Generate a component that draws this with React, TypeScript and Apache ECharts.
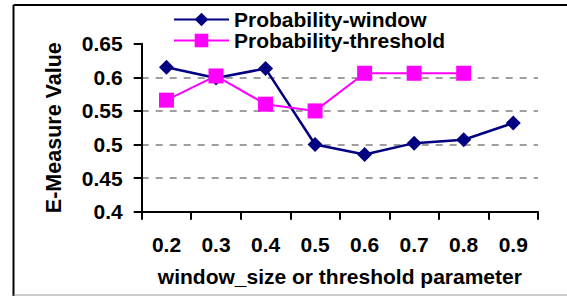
import React, { useEffect, useRef } from "react";
import * as echarts from "echarts";

const categories = ["0.2", "0.3", "0.4", "0.5", "0.6", "0.7", "0.8", "0.9"];
const windowValues = [0.615, 0.599, 0.613, 0.5, 0.485, 0.502, 0.507, 0.532];
const thresholdValues: (number | string)[] = [0.566, 0.602, 0.56, 0.55, 0.606, 0.606, 0.606, "-"];
const seriesNames = ["Probability-window", "Probability-threshold"];
const xAxisTitle = "window_size or threshold parameter";
const yAxisTitle = "E-Measure Value";

const FONT = 'Arial, "Liberation Sans", sans-serif';
const FS = 21;

export default function App() {
  const ref = useRef<HTMLDivElement>(null);
  useEffect(() => {
    if (!ref.current) return;
    const chart = echarts.init(ref.current, undefined, { renderer: "svg" });
    const gridColor = "#808080";
    chart.setOption({
      animation: false,
      backgroundColor: "#ffffff",
      textStyle: { fontFamily: FONT },
      grid: { left: 141.7, right: 29, top: 43.7, bottom: 84.3, containLabel: false },
      legend: {
        orient: "vertical",
        left: 168,
        top: 4,
        padding: 5,
        itemWidth: 55,
        itemHeight: 17,
        itemGap: 0,
        data: seriesNames,
        textStyle: { fontFamily: FONT, fontSize: FS, lineHeight: 21, fontWeight: "bold", color: "#000" },
      },
      xAxis: {
        type: "category",
        data: categories,
        boundaryGap: true,
        name: xAxisTitle,
        nameLocation: "middle",
        nameGap: 54,
        nameTextStyle: { fontFamily: FONT, fontSize: FS, fontWeight: "bold", color: "#000" },
        axisLine: { lineStyle: { color: "#000", width: 2 } },
        axisTick: { show: true, inside: false, length: 8, alignWithLabel: false, lineStyle: { color: "#000", width: 2 } },
        axisLabel: { margin: 22, fontFamily: FONT, fontSize: FS, fontWeight: "bold", color: "#000" },
        splitLine: { show: false },
      },
      yAxis: {
        type: "value",
        min: 0.4,
        max: 0.65,
        interval: 0.05,
        name: yAxisTitle,
        nameLocation: "middle",
        nameRotate: 90,
        nameGap: 77,
        nameTextStyle: { fontFamily: FONT, fontSize: 21.5, fontWeight: "bold", color: "#000" },
        axisLine: { show: true, lineStyle: { color: "#000", width: 2 } },
        axisTick: { show: true, inside: false, length: 8, lineStyle: { color: "#000", width: 2 } },
        axisLabel: { margin: 19, fontFamily: FONT, fontSize: FS, fontWeight: "bold", color: "#000" },
        splitLine: {
          show: true,
          lineStyle: {
            color: ["rgba(0,0,0,0)", gridColor, gridColor, gridColor, gridColor, "rgba(0,0,0,0)"],
            type: [7, 7],
            width: 1.5,
          },
        },
      },
      series: [
        {
          name: seriesNames[0],
          type: "line",
          data: windowValues,
          symbol: "diamond",
          symbolSize: 15,
          showAllSymbol: true,
          lineStyle: { color: "#000080", width: 2.5 },
          itemStyle: { color: "#000080" },
        },
        {
          name: seriesNames[1],
          type: "line",
          data: thresholdValues,
          symbol: "rect",
          symbolSize: 15,
          showAllSymbol: true,
          lineStyle: { color: "#FF00FF", width: 2 },
          itemStyle: { color: "#FF00FF" },
        },
      ],
      graphic: [
        { type: "line", shape: { x1: 13.5, y1: 5, x2: 567, y2: 5 }, style: { stroke: "#000", lineWidth: 2 } },
        { type: "line", shape: { x1: 13.5, y1: 5, x2: 13.5, y2: 296 }, style: { stroke: "#000", lineWidth: 2 } },
        { type: "line", shape: { x1: 13.5, y1: 295, x2: 567, y2: 295 }, style: { stroke: "#999", lineWidth: 1 } },
      ],
    });
    return () => chart.dispose();
  }, []);
  return (
    <div
      ref={ref}
      style={{ position: "fixed", left: 0, top: 0, width: 567, height: 296 }}
    />
  );
}
